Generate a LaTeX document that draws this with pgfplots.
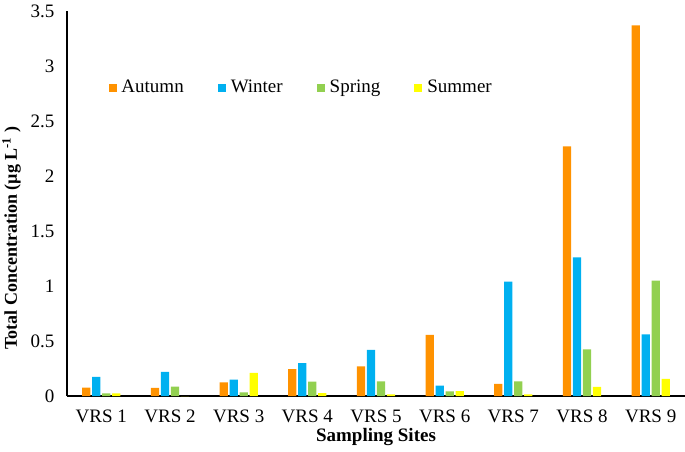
\documentclass[border=0pt]{standalone}
\usepackage{pgfplots}
\pgfplotsset{compat=1.18}
\usepackage{fontspec}
\setmainfont{Liberation Serif}
\definecolor{cAut}{RGB}{255,146,0}
\definecolor{cWin}{RGB}{0,176,240}
\definecolor{cSpr}{RGB}{146,208,80}
\definecolor{cSum}{RGB}{255,255,0}
\begin{document}
\fontsize{19bp}{22bp}\selectfont
\begin{tikzpicture}
\begin{axis}[
  name=ax,
  scale only axis,
  width=618bp, height=385bp,
  ybar=1.7bp, bar width=8.3bp,
  xmin=-0.5, xmax=8.5,
  ymin=0, ymax=3.5,
  xtick=data,
  xticklabels={VRS 1,VRS 2,VRS 3,VRS 4,VRS 5,VRS 6,VRS 7,VRS 8,VRS 9},
  ytick={0,0.5,1,1.5,2,2.5,3,3.5},
  yticklabels={0,0.5,1,1.5,2,2.5,3,3.5},
  major tick length=0pt,
  axis x line*=bottom, axis y line*=left,
  x axis line style={line width=1.6bp,-},
  y axis line style={line width=1.2bp,-},
  tick label style={font=\fontsize{19bp}{22bp}\selectfont},
  xticklabel style={inner sep=0pt, yshift=-14bp},
  yticklabel style={xshift=-6bp},
  xlabel={\textbf{Sampling Sites}},
  ylabel={\textbf{Total Concentration (µg L\textsuperscript{-1} )}},
  xlabel style={font=\fontsize{19bp}{22bp}\selectfont, at={(axis description cs:0.5,0)}, anchor=base, yshift=-45bp, inner sep=0pt},
  ylabel style={font=\fontsize{18bp}{22bp}\selectfont, at={(axis description cs:-0.0744,0.41)}, anchor=south, inner sep=0pt},
  legend style={at={(axis description cs:0.062,0.8)}, anchor=west, draw=none, fill=none,
    legend columns=4, font=\fontsize{19bp}{22bp}\selectfont,
    /tikz/every even column/.append style={column sep=32bp}},
  legend image code/.code={\fill[#1] (0bp,-4bp) rectangle (8bp,4bp); \path (11bp,0bp);},
  every axis plot/.append style={draw=none},
]
\addplot[fill=cAut] coordinates {(0,0.076) (1,0.075) (2,0.125) (3,0.245) (4,0.27) (5,0.555) (6,0.11) (7,2.27) (8,3.37)};
\addplot[fill=cWin] coordinates {(0,0.173) (1,0.22) (2,0.15) (3,0.30) (4,0.42) (5,0.095) (6,1.04) (7,1.26) (8,0.56)};
\addplot[fill=cSpr] coordinates {(0,0.025) (1,0.085) (2,0.034) (3,0.13) (4,0.134) (5,0.043) (6,0.134) (7,0.425) (8,1.05)};
\addplot[fill=cSum] coordinates {(0,0.025) (1,0) (2,0.21) (3,0.027) (4,0.015) (5,0.045) (6,0.015) (7,0.082) (8,0.155)};
\legend{Autumn,Winter,Spring,Summer}
\end{axis}
\pgfresetboundingbox
\path[use as bounding box] ([xshift=-67bp,yshift=-56bp]ax.south west) rectangle ([yshift=11bp]ax.north east);
\end{tikzpicture}
\end{document}
